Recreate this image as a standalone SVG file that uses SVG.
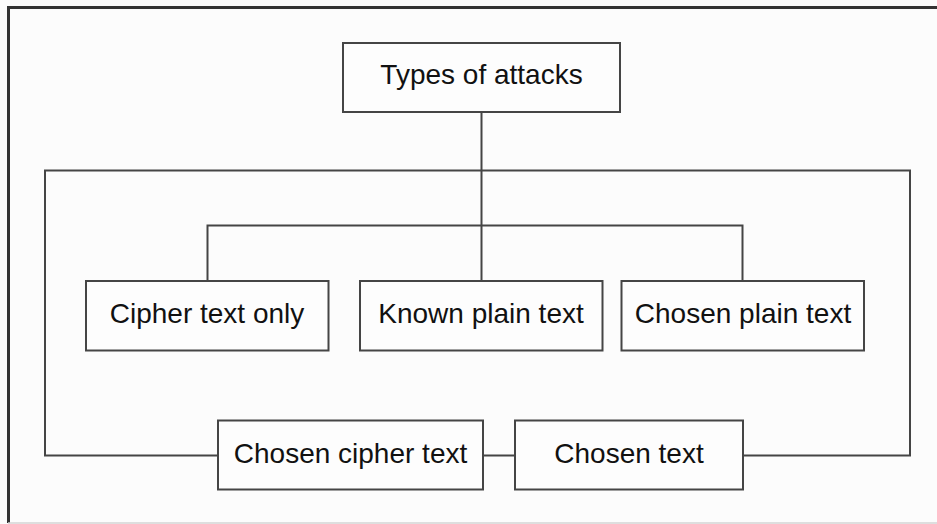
<svg xmlns="http://www.w3.org/2000/svg" width="937" height="524" viewBox="0 0 937 524">
<style>
.box{fill:#fdfdfd;stroke:#454545;stroke-width:2}
.ln{fill:none;stroke:#454545;stroke-width:2}
.frame{fill:none;stroke:#333;stroke-width:3}
.t{font-family:"Liberation Sans",Arial,sans-serif;font-size:28px;fill:#111;text-anchor:middle}
</style>
<rect x="0" y="0" width="937" height="524" fill="#fcfcfc"/>
<g id="frame">
<path class="frame" d="M8.5,523 V7.5 H937"/>
<line x1="8" y1="523" x2="937" y2="523" stroke="#d4d4d4" stroke-width="1.5"/>
</g>
<g id="connectors">
<line class="ln" x1="481.5" y1="112" x2="481.5" y2="281"/>
<path class="ln" d="M218,455.5 H45 V170.5 H910 V455.5 H743"/>
<line class="ln" x1="483" y1="455.5" x2="515" y2="455.5"/>
<path class="ln" d="M207.5,281 V225.5 H742.5 V281"/>
</g>
<g id="types">
<rect class="box" x="343" y="43" width="277" height="69"/>
<text class="t" x="481.5" y="83.5">Types of attacks</text>
</g>
<g id="cipher-only">
<rect class="box" x="86" y="281" width="242.5" height="69.5"/>
<text class="t" x="207" y="322.5">Cipher text only</text>
</g>
<g id="known-plain">
<rect class="box" x="360" y="281" width="242.5" height="69.5"/>
<text class="t" x="481" y="322.5">Known plain text</text>
</g>
<g id="chosen-plain">
<rect class="box" x="621.5" y="281" width="242.5" height="69.5"/>
<text class="t" x="743" y="322.5">Chosen plain text</text>
</g>
<g id="chosen-cipher">
<rect class="box" x="218" y="420.5" width="265" height="69"/>
<text class="t" x="350.5" y="462.5">Chosen cipher text</text>
</g>
<g id="chosen-text">
<rect class="box" x="515" y="420.5" width="228" height="69"/>
<text class="t" x="629" y="462.5">Chosen text</text>
</g>
</svg>
